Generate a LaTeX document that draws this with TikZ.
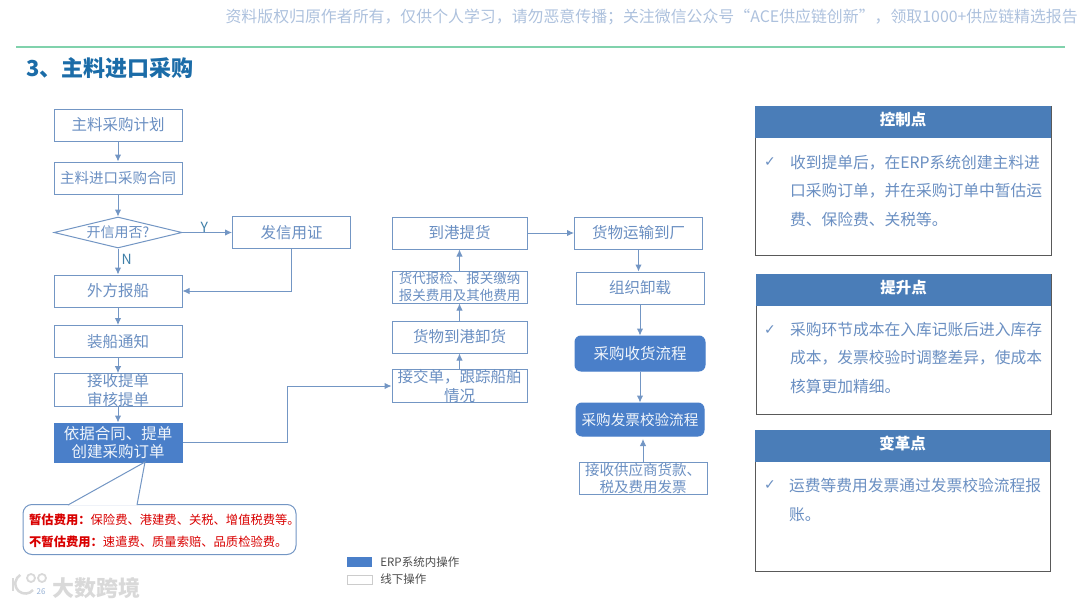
\documentclass[tikz,border=0pt]{standalone}
\usepackage{fontspec}
\setmainfont{Noto Sans CJK SC}
\newfontfamily\symfont{DejaVu Sans}
\usetikzlibrary{arrows.meta,shapes.geometric}
\definecolor{flowblue}{HTML}{7396C4}
\definecolor{flowtext}{HTML}{6A8FC2}
\definecolor{fillblue}{HTML}{4A7FC9}
\definecolor{headblue}{HTML}{4A7DB8}
\definecolor{titleblue}{HTML}{1B6CA8}
\definecolor{marktext}{HTML}{3F7FA8}
\tikzset{
  flowbox/.style={draw=flowblue, line width=1pt, fill=white, text=flowtext, minimum width=128pt, minimum height=32pt, inner sep=0pt, align=center, font=\fontsize{15.5}{18.5}\selectfont},
  erpbox/.style={flowbox, fill=fillblue, draw=fillblue, text=white!92!fillblue},
  flow/.style={draw=flowblue, line width=1pt, -{Latex[length=7pt,width=6.5pt]}},
  panel/.style={draw=black!65, line width=0.9pt, fill=white, anchor=north west, inner sep=0pt},
  panelhead/.style={fill=headblue, text=white, anchor=north west, inner sep=0pt, minimum height=32pt, text height=13pt, text depth=5.5pt, font=\fontsize{15.5}{18}\selectfont\bfseries},
  paneltext/.style={text=flowtext, anchor=north west, inner sep=0pt, align=left, font=\fontsize{15.75}{28.5}\selectfont},
  tick/.style={text=flowtext, inner sep=0pt, font=\symfont\fontsize{14}{14}\selectfont},
  notetext/.style={text=red!85!black, inner sep=0pt, anchor=west, font=\fontsize{12.3}{14}\selectfont},
  keytext/.style={right=8pt, inner sep=0pt, text=black!70, font=\fontsize{11.5}{13}\selectfont},
  branch/.style={text=marktext, inner sep=0pt, font=\fontsize{14}{15}\selectfont}
}
\begin{document}
\begin{tikzpicture}[x=1pt,y=-1pt]
  \useasboundingbox (0,0) rectangle (1080,608);
  % Header
  \node[text=flowtext!55, inner sep=0pt, anchor=east, font=\fontsize{15.9}{17}\selectfont] (notice) at (1078,17) {资料版权归原作者所有，仅供个人学习，请勿恶意传播；关注微信公众号“ACE供应链创新”，领取1000+供应链精选报告};
  \coordinate (ruleL) at (16,47);
  \coordinate (ruleR) at (1065,47);
  \draw[draw=green!30!teal!50, line width=1.2pt] (ruleL) -- (ruleR);
  \node[text=titleblue, inner sep=0pt, anchor=west, font=\fontsize{22}{24}\selectfont\bfseries] (title) at (26,68) {3、主料进口采购};

  % Left column
  \node[flowbox] (plan) at (118,125) {主料采购计划};
  \node[flowbox, font=\fontsize{14.5}{18}\selectfont] (contract) at (118,178) {主料进口采购合同};
  \node[flowbox, shape=diamond, aspect=4.1, minimum width=128pt, minimum height=31pt, font=\fontsize{14}{16}\selectfont] (lc) at (118,232.5) {开信用否?};
  \node[flowbox, minimum width=118pt] (issue) at (291.5,232.5) {发信用证};
  \node[flowbox] (notify) at (118,291) {外方报船};
  \node[flowbox] (ship) at (118,341.5) {装船通知};
  \node[flowbox] (bill) at (118,390) {接收提单\\审核提单};
  \node[erpbox, minimum height=39pt] (order) at (118,442.5) {依据合同、提单\\创建采购订单};

  % Middle column
  \node[flowbox, minimum width=135pt] (pickup) at (459.5,233) {到港提货};
  \node[flowbox, minimum width=135pt, font=\fontsize{13.5}{16.5}\selectfont] (customs) at (459.5,287) {货代报检、报关缴纳\\报关费用及其他费用};
  \node[flowbox, minimum width=135pt] (unload) at (459.5,337) {货物到港卸货};
  \node[flowbox, minimum width=135pt] (track) at (459.5,386) {接交单，跟踪船舶\\情况};

  % Right column
  \node[flowbox] (truck) at (638.5,233) {货物运输到厂};
  \node[flowbox] (discharge) at (640,288) {组织卸载};
  \node[erpbox, rounded corners=6pt, minimum width=130pt, minimum height=35pt] (receipt) at (640,353.5) {采购收货流程};
  \node[erpbox, rounded corners=6pt, minimum height=33pt, font=\fontsize{14.6}{18}\selectfont] (verify) at (640,419.5) {采购发票校验流程};
  \node[flowbox, font=\fontsize{14.5}{17}\selectfont] (invoice) at (643,478.5) {接收供应商货款、\\税及费用发票};

  % Arrows
  \draw[flow] (plan) -- (contract);
  \draw[flow] (contract) -- (lc);
  \draw[flow] (lc) -- (issue) node[pos=0.44, above=0pt, branch] (yes) {Y};
  \draw[flow] (lc) -- (notify) node[midway, right=3pt, yshift=2pt, branch] (no) {N};
  \draw[flow] (issue) |- (notify);
  \draw[flow] (notify) -- (ship);
  \draw[flow] (ship) -- (bill);
  \draw[flow] (bill) -- (order);
  \draw[flow] (order.east) -- (287,442.5) |- (track.west);
  \draw[flow] (track) -- (unload);
  \draw[flow] (unload) -- (customs);
  \draw[flow] (customs) -- (pickup);
  \draw[flow] (pickup) -- (truck);
  \draw[flow] (truck.south) -- (truck.south |- discharge.north);
  \draw[flow] (discharge) -- (receipt);
  \draw[flow] (receipt) -- (verify);
  \draw[flow] (invoice.north) -- ++(0,-23);

  % Callout
  \node[draw=flowblue, line width=1pt, rounded corners=9pt, fill=white, minimum width=273pt, minimum height=50pt, inner sep=0pt] (note) at (159.5,529.5) {};
  \coordinate (tipA) at (145,462);
  \coordinate (tipB) at (68,505);
  \coordinate (tipC) at (137,505);
  \fill[white] (tipA) -- (tipB) -- (tipC) -- cycle;
  \draw[draw=flowblue, line width=1pt] (tipB) -- (tipA) -- (tipC);
  \node[notetext] (est) at (29,520) {\textbf{暂估费用：}保险费、港建费、关税、增值税费等。};
  \node[notetext] (noest) at (29,542) {\textbf{不暂估费用：}速遣费、质量索赔、品质检验费。};

  % Legend
  \node[fill=fillblue, minimum width=25pt, minimum height=10pt, inner sep=0pt] (keyerp) at (359.5,562) {};
  \node[draw=black!20, minimum width=25pt, minimum height=9pt, inner sep=0pt] (keyoff) at (359.5,579.5) {};
  \node[keytext] (erplabel) at (keyerp.east) {ERP系统内操作};
  \node[keytext] (offlabel) at (keyoff.east) {线下操作};

  % Panel 1
  \node[panel, minimum width=296pt, minimum height=149pt] (ctrl) at (755,106) {};
  \node[panelhead, minimum width=296pt] (ctrlhead) at (755,106) {控制点};
  \node[tick] (ctrltick) at (770,162) {✓};
  \node[paneltext] (ctrltext) at (790,155) {收到提单后，在ERP系统创建主料进\\口采购订单，并在采购订单中暂估运\\费、保险费、关税等。};

  % Panel 2
  \node[panel, minimum width=295pt, minimum height=140pt] (lift) at (756,274) {};
  \node[panelhead, minimum width=295pt] (lifthead) at (756,274) {提升点};
  \node[tick] (lifttick) at (770,330) {✓};
  \node[paneltext] (lifttext) at (790,322) {采购环节成本在入库记账后进入库存\\成本，发票校验时调整差异，使成本\\核算更加精细。};

  % Panel 3
  \node[panel, minimum width=295pt, minimum height=141pt] (reform) at (755,430) {};
  \node[panelhead, minimum width=295pt] (reformhead) at (755,430) {变革点};
  \node[tick] (reformtick) at (770,485) {✓};
  \node[paneltext] (reformtext) at (789,478) {运费等费用发票通过发票校验流程报\\账。};

  % Watermark
  \draw[black!15, line width=2.5pt] (13,578) -- (13,591);
  \draw[black!15, line width=2.5pt] (33,590) arc (-40:-240:10pt);
  \draw[black!15, line width=1.8pt] (31,578) circle (4pt);
  \draw[black!15, line width=1.8pt] (42,578) circle (4pt);
  \node[text=flowtext!70, inner sep=0pt, font=\fontsize{8}{9}\selectfont] (page) at (41,592) {26};
  \node[text=black!15, inner sep=0pt, anchor=west, font=\fontsize{22}{24}\selectfont\bfseries] (mark) at (52,588) {大数跨境};
\end{tikzpicture}
\end{document}
